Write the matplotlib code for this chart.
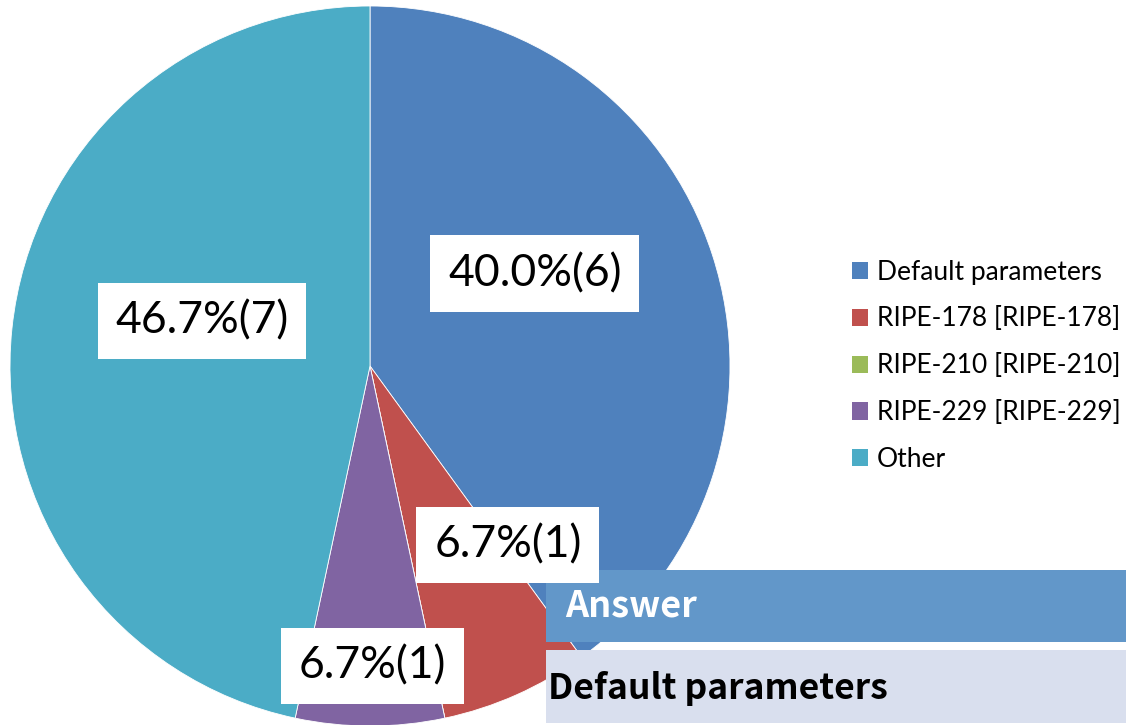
import matplotlib
matplotlib.use('Agg')
import matplotlib.pyplot as plt
import matplotlib.patches as patches
import numpy as np

labels = ['Default parameters', 'RIPE-178 [RIPE-178]', 'RIPE-210 [RIPE-210]',
          'RIPE-229 [RIPE-229]', 'Other']
counts = [6, 1, 0, 1, 7]
colors = ['#4F81BD', '#C0504D', '#9BBB59', '#8064A2', '#4BACC6']
table_header = 'Answer'
table_value = 'Default parameters'

W, H = 1126, 725
fig = plt.figure(figsize=(W / 100, H / 100), dpi=100)
ax = fig.add_axes([0, 0, 1, 1])

# pie geometry in pixel space (y up)
cx, cy, r = 370, H - 366, 360
wedges, _ = ax.pie(counts, colors=colors, startangle=90, counterclock=False,
                   center=(cx, cy), radius=r, frame=True,
                   wedgeprops=dict(edgecolor='white', linewidth=0.6))
ax.set_xlim(0, W)
ax.set_ylim(0, H)
ax.set_aspect('equal')
ax.axis('off')

# data labels (angle in degrees, distance in px from centre) - excel "best fit"
total = sum(counts)
label_pos = {0: (29.3, 189), 1: (-52.4, 226), 3: (-89.6, 300), 4: (165.0, 174)}
for i, (ang, dist) in label_pos.items():
    pct = 100 * counts[i] / total
    x = cx + dist * np.cos(np.radians(ang))
    y = cy + dist * np.sin(np.radians(ang))
    ax.text(x, y, f'{pct:.1f}%({counts[i]})', ha='center', va='center',
            fontsize=32, family='Lato', zorder=10,
            bbox=dict(boxstyle='square,pad=0.4', facecolor='white', edgecolor='none'))

# legend
handles = [patches.Patch(facecolor=c, edgecolor='none') for c in colors]
ax.legend(handles, labels, loc='upper left', bbox_to_anchor=(841 / W, 1 - 249 / H),
          frameon=False, prop={'family': 'Lato', 'size': 19},
          handlelength=0.62, handleheight=0.62, handletextpad=0.35,
          labelspacing=0.83, borderaxespad=0)

# answer table in lower right
ax.add_patch(patches.Rectangle((546, H - 642), W - 546, 72, facecolor='#6297C9',
                               edgecolor='none', zorder=5))
ax.add_patch(patches.Rectangle((546, H - 723), W - 546, 73, facecolor='#D9DFEE',
                               edgecolor='none', zorder=5))
ax.text(565, H - 606, table_header, color='white', fontsize=26, fontweight='bold',
        family='Noto Sans CJK JP', ha='left', va='center', zorder=6)
ax.text(548, H - 688, table_value, color='black', fontsize=25.5, fontweight='bold',
        family='Noto Sans CJK JP', ha='left', va='center', zorder=6)

fig.savefig('out.png', dpi=100)
